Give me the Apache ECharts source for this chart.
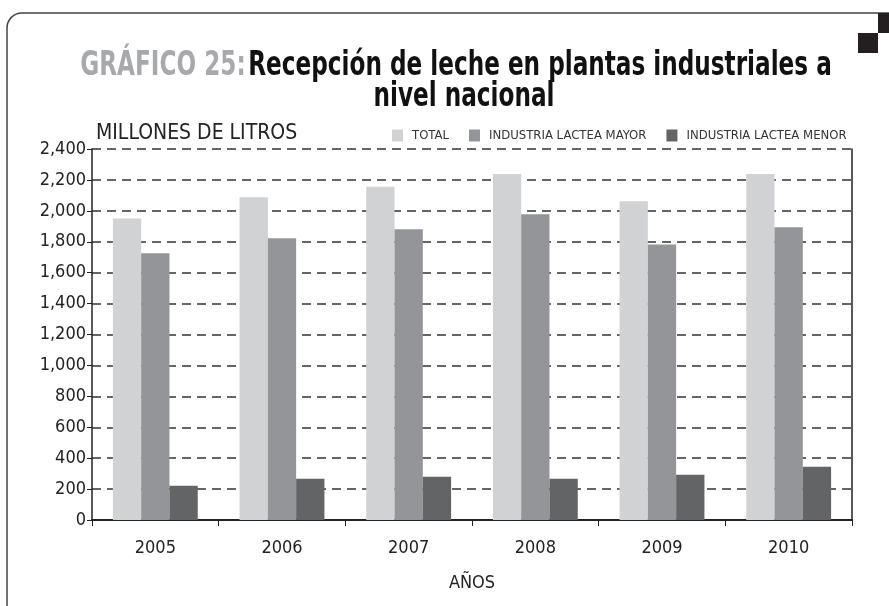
<!DOCTYPE html>
<html>
<head>
<meta charset="utf-8">
<script src="https://cdn.jsdelivr.net/npm/echarts@6/dist/echarts.min.js"></script>
<style>
  html, body { margin: 0; padding: 0; background: #fff; }
  #main { width: 889px; height: 606px; }
</style>
</head>
<body>
<div id="main"></div>
<script>
const years = ['2005', '2006', '2007', '2008', '2009', '2010']
const total = [1950, 2088, 2155, 2238, 2062, 2238]
const mayor = [1725, 1822, 1881, 1978, 1783, 1893]
const menor = [222, 267, 280, 267, 293, 345]

const FONT = '"DejaVu Sans Condensed", "Liberation Sans", sans-serif'
const colors = ['#d1d2d4', '#939598', '#636466']

const chart = echarts.init(document.getElementById('main'), null, { renderer: 'canvas' })

const option = {
  animation: false,
  textStyle: { fontFamily: FONT },
  legend: {
    top: 129,
    left: 392,
    padding: 0,
    itemWidth: 11,
    itemHeight: 12,
    itemGap: 20,
    icon: 'rect',
    textStyle: { fontSize: 13, color: '#333', fontFamily: FONT, padding: [0, 0, 0, 4] },
    data: ['TOTAL', 'INDUSTRIA LACTEA MAYOR', 'INDUSTRIA LACTEA MENOR']
  },
  grid: { left: 92, right: 37, top: 149, bottom: 86 },
  xAxis: {
    type: 'category',
    data: years,
    name: 'AÑOS',
    nameLocation: 'middle',
    nameGap: 54,
    nameTextStyle: { fontSize: 18, color: '#222', fontFamily: FONT },
    axisLine: { lineStyle: { color: '#222', width: 1.8 } },
    axisTick: { show: true, length: 6, lineStyle: { color: '#222' } },
    axisLabel: { fontSize: 18, color: '#222', margin: 19, fontFamily: FONT }
  },
  yAxis: [{
    type: 'value',
    min: 0,
    max: 2400,
    interval: 200,
    name: 'MILLONES DE LITROS',
    nameLocation: 'end',
    nameGap: 5,
    nameTextStyle: { fontSize: 21, color: '#222', align: 'left', padding: [0, 0, 0, 4], fontFamily: FONT },
    axisLine: { show: true, lineStyle: { color: '#222', width: 1.5 } },
    axisTick: { show: true, length: 5, lineStyle: { color: '#222' } },
    axisLabel: {
      fontSize: 18, color: '#222', margin: 6, fontFamily: FONT,
      formatter: v => v.toLocaleString('en-US')
    },
    splitLine: { lineStyle: { color: '#333', width: 1.5, type: [9, 6] } }
  }, {
    type: 'value',
    min: 0,
    max: 2400,
    interval: 200,
    position: 'right',
    axisLine: { show: true, lineStyle: { color: '#222', width: 1.5 } },
    axisTick: { show: false },
    axisLabel: { show: false },
    splitLine: { show: false }
  }],
  series: [
    { name: 'TOTAL', type: 'bar', data: total, itemStyle: { color: colors[0] }, barGap: '0%', barCategoryGap: '33%' },
    { name: 'INDUSTRIA LACTEA MAYOR', type: 'bar', data: mayor, itemStyle: { color: colors[1] } },
    { name: 'INDUSTRIA LACTEA MENOR', type: 'bar', data: menor, itemStyle: { color: colors[2] } }
  ],
  graphic: [
    {
      type: 'rect',
      shape: { x: 7, y: 13, width: 950, height: 650, r: 15 },
      style: { fill: null, stroke: '#444', lineWidth: 1.5 }
    },
    { type: 'rect', shape: { x: 878, y: 13, width: 11, height: 20 }, style: { fill: '#231f20' } },
    { type: 'rect', shape: { x: 858, y: 33, width: 20, height: 20 }, style: { fill: '#231f20' } },
    {
      type: 'text',
      x: 456,
      y: 66,
      scaleX: 0.78,
      style: {
        text: '{a|GRÁFICO 25:} {b|Recepción de leche en plantas industriales a}',
        align: 'center',
        verticalAlign: 'middle',
        rich: {
          a: { fill: '#a7a9ac', fontSize: 33, fontWeight: 'bold', fontFamily: FONT },
          b: { fill: '#111', fontSize: 33, fontWeight: 'bold', fontFamily: FONT }
        }
      }
    },
    {
      type: 'text',
      x: 464,
      y: 97,
      scaleX: 0.78,
      style: {
        text: 'nivel nacional',
        align: 'center',
        verticalAlign: 'middle',
        fill: '#111',
        fontSize: 33,
        fontWeight: 'bold',
        fontFamily: FONT
      }
    }
  ]
}

chart.setOption(option)
</script>
</body>
</html>
